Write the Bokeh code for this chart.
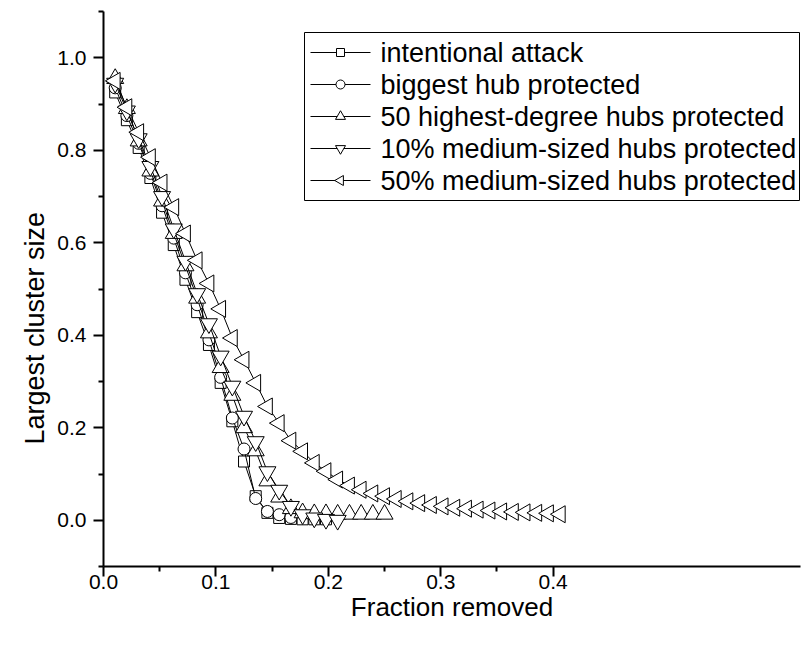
import math
from bokeh.plotting import figure
from bokeh.models import Range1d, FixedTicker, Title
from bokeh.core.properties import value
from bokeh.embed import file_html
from bokeh.resources import INLINE

# fraction of nodes removed (shared x positions of all series)
x_frac = [0.0104, 0.0208, 0.0313, 0.0417, 0.0521, 0.0625, 0.0729, 0.0833, 0.0938, 0.1042,
          0.1146, 0.1250, 0.1354, 0.1458, 0.1563, 0.1667, 0.1771, 0.1875, 0.1979, 0.2083,
          0.2188, 0.2292, 0.2396, 0.2500, 0.2604, 0.2708, 0.2813, 0.2917, 0.3021, 0.3125,
          0.3229, 0.3333, 0.3438, 0.3542, 0.3646, 0.3750, 0.3854, 0.3958, 0.4063]

y_attack = [0.925, 0.865, 0.805, 0.740, 0.665, 0.595, 0.520, 0.450, 0.379, 0.297,
            0.214, 0.127, 0.052, 0.016, 0.005, 0.003, 0.002, 0.002, 0.002]
y_biggest = [0.935, 0.875, 0.815, 0.750, 0.680, 0.610, 0.535, 0.466, 0.390, 0.309,
             0.221, 0.154, 0.047, 0.019, 0.012, 0.006]
y_top50 = [0.955, 0.890, 0.820, 0.755, 0.690, 0.620, 0.550, 0.480, 0.405, 0.330,
           0.270, 0.200, 0.150, 0.085, 0.050, 0.025, 0.016, 0.014, 0.014, 0.013,
           0.013, 0.013, 0.013, 0.013]
y_med10 = [0.945, 0.885, 0.825, 0.765, 0.700, 0.630, 0.560, 0.490, 0.425, 0.355,
           0.290, 0.225, 0.170, 0.105, 0.065, 0.030, 0.012, 0.005, 0.002, 0.000]
y_med50 = [0.950, 0.893, 0.839, 0.785, 0.730, 0.677, 0.620, 0.562, 0.512, 0.457,
           0.394, 0.347, 0.297, 0.246, 0.210, 0.172, 0.149, 0.124, 0.106, 0.088,
           0.075, 0.066, 0.058, 0.052, 0.046, 0.041, 0.037, 0.033, 0.030, 0.027,
           0.025, 0.023, 0.021, 0.019, 0.018, 0.017, 0.016, 0.015, 0.013]

labels = ["intentional attack", "biggest hub protected", "50 highest-degree hubs protected",
          "10% medium-sized hubs protected", "50% medium-sized hubs protected"]

x_ticks = [0.0, 0.1, 0.2, 0.3, 0.4]
x_minor = [0.05, 0.15, 0.25, 0.35]
y_ticks = [0.0, 0.2, 0.4, 0.6, 0.8, 1.0]
y_minor = [-0.1, 0.1, 0.3, 0.5, 0.7, 0.9, 1.1]

FONT = "Liberation Sans"

W, H = 805, 647
BL, BR, BT, BB = 103, 5, 11, 81
X0, X1 = 0.0, 0.62
Y0, Y1 = -0.1, 1.1
frame_w = W - BL - BR
frame_h = H - BT - BB

p = figure(width=W, height=H, x_range=Range1d(X0, X1), y_range=Range1d(Y0, Y1),
           output_backend="svg", toolbar_location=None,
           min_border_left=BL, min_border_right=BR, min_border_top=BT, min_border_bottom=BB)
p.outline_line_color = None
p.grid.visible = False

for ax in (p.xaxis, p.yaxis):
    ax.axis_line_width = 2
    ax.axis_line_color = "black"
    ax.major_tick_line_width = 2
    ax.minor_tick_line_width = 2
    ax.major_tick_line_color = "black"
    ax.minor_tick_line_color = "black"
    ax.major_tick_in = 0
    ax.major_tick_out = 10
    ax.minor_tick_in = 0
    ax.minor_tick_out = 5
    ax.major_label_text_font = FONT
    ax.major_label_text_font_size = "21px"
    ax.major_label_text_color = "black"
    ax.axis_label_text_font = FONT
    ax.axis_label_text_font_size = "26px"
    ax.axis_label_text_font_style = "normal"
    ax.axis_label_text_color = "black"

p.xaxis.ticker = FixedTicker(ticks=x_ticks, minor_ticks=x_minor)
p.yaxis.ticker = FixedTicker(ticks=y_ticks, minor_ticks=y_minor)
p.xaxis.major_label_overrides = {t: f"{t:.1f}" for t in x_ticks}
p.yaxis.major_label_overrides = {t: f"{t:.1f}" for t in y_ticks}
p.xaxis.axis_label = "Fraction removed"
p.xaxis.major_label_standoff = -2
p.yaxis.major_label_standoff = 7
p.xaxis.axis_label_standoff = 0

ytitle = Title(text="Largest cluster size", align="left", offset=122,
               text_font=FONT, text_font_size="27px", text_font_style="normal",
               text_color="black", standoff=9)
p.add_layout(ytitle, "left")

series = [
    (y_attack, "square", 11, 0.0, 8),
    (y_biggest, "circle", 12, 0.0, 9),
    (y_top50, "triangle", 17, 0.0, 10),
    (y_med10, "inverted_triangle", 17, 0.0, 10),
    (y_med50, "triangle", 17, math.pi / 2, 10),
]

for ys, marker, size, angle, _ in series:
    xs = x_frac[:len(ys)]
    p.line(xs, ys, line_color="black", line_width=1)
    p.scatter(xs, ys, marker=marker, size=size, angle=angle,
              fill_color="white", line_color="black", line_width=1)


# ---- legend, drawn with glyphs (screen-pixel layout converted to data units) ----
def sx2x(sx):
    return X0 + (sx - BL) * (X1 - X0) / frame_w


def sy2y(sy):
    return Y1 - (sy - BT) * (Y1 - Y0) / frame_h


LEG_L, LEG_R, LEG_T = 304, 799, 32
PAD, ROW_H, GLYPH_L, GLYPH_R, TEXT_L = 4, 32, 310, 370, 380
n = len(labels)
LEG_B = LEG_T + 2 * PAD + n * ROW_H

p.quad(left=[sx2x(LEG_L)], right=[sx2x(LEG_R)], top=[sy2y(LEG_T)], bottom=[sy2y(LEG_B)],
       fill_color="white", line_color="black", line_width=1)

row_y = [sy2y(LEG_T + PAD + ROW_H * (k + 0.5)) for k in range(n)]
p.segment(x0=[sx2x(GLYPH_L)] * n, x1=[sx2x(GLYPH_R)] * n, y0=row_y, y1=row_y,
          line_color="black", line_width=1)
for (ys, marker, size, angle, lsize), ry in zip(series, row_y):
    p.scatter([sx2x((GLYPH_L + GLYPH_R) / 2)], [ry], marker=marker, size=lsize, angle=angle,
              fill_color="white", line_color="black", line_width=1)
p.text(x=[sx2x(TEXT_L)] * n, y=row_y, text=labels,
       text_font=value(FONT), text_font_size="27px", text_color="black",
       text_align="left", text_baseline="middle")

open("out.html", "w").write(file_html(p, INLINE))
